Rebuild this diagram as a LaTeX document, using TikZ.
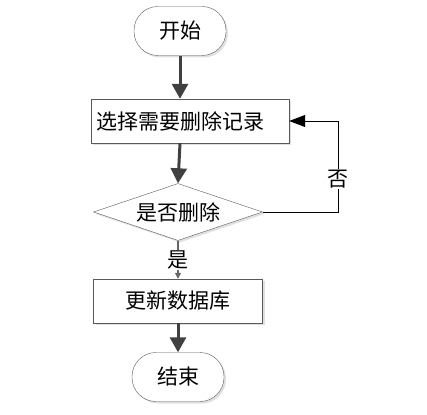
\documentclass[tikz,border=0pt]{standalone}
\usepackage{fontspec}
\newfontfamily\cjk{Noto Sans CJK SC}
\usetikzlibrary{arrows.meta,shapes.geometric,shadows}

\begin{document}
\begin{tikzpicture}[x=1pt,y=-1pt,
		every node/.style={font=\cjk\fontsize{21}{24}\selectfont},
		faint/.style={drop shadow={shadow xshift=2pt,shadow yshift=-2pt,fill=black!12,opacity=1}},
		term/.style={draw=black!65,fill=white,rounded corners=24pt,minimum width=92pt,minimum height=49pt,inner sep=0pt,faint},
		proc/.style={draw=black!65,fill=white,minimum height=44pt,inner sep=0pt,faint},
		decide/.style={diamond,draw=black!65,fill=white,aspect=2.96,minimum width=169pt,minimum height=57pt,inner sep=0pt,faint},
		flow/.style={draw=black!75,line width=3pt,-{Triangle[length=15pt,width=16pt]}},
		back/.style={draw=black,line width=0.8pt,-{Triangle[length=16pt,width=12pt]}},
		yes/.style={draw=black!60,line width=1.2pt,-{Triangle[length=6pt,width=6pt]}},
		tag/.style={fill=white,inner sep=1pt}]
	%% canvas
	\useasboundingbox (0,0) rectangle (427,414);

	%% nodes
	\node[term] (start) at (180,31) {开始};
	\node[proc,minimum width=198pt,text width=188pt,align=left,inner xsep=5pt] (pick) at (190,121) {选择需要删除记录};
	\node[decide] (ask) at (178,212) {是否删除};
	\node[proc,minimum width=169pt] (upd) at (178,301) {更新数据库};
	\node[term] (stop) at (178,377) {结束};
	\coordinate (turn) at (338,121);

	%% flow
	\draw[flow] (start) -- (start |- pick.north);
	\draw[flow] (pick.south -| start) -- (ask.north);
	\draw[yes] (ask.south) -- node[tag] {是} (upd.north);
	\draw[flow] (upd) -- (stop);

	%% back edge
	\draw[back] (ask.east) -| node[tag,pos=0.68] {否} (turn) -- (pick.east);
\end{tikzpicture}
\end{document}
